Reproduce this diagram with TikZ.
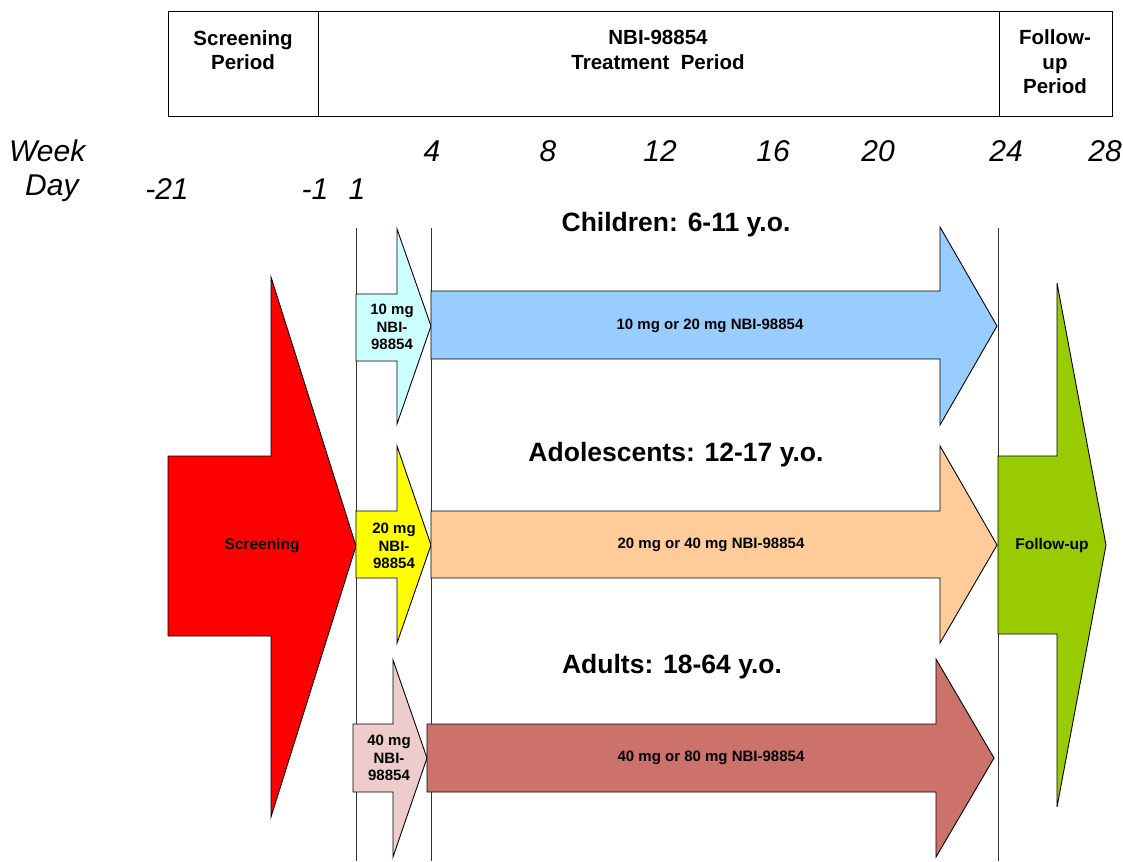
\documentclass[tikz,border=0pt]{standalone}
\usepackage{fontspec}
\setmainfont{Liberation Sans}
\usepackage{tikz}
\usetikzlibrary{positioning}

\definecolor{scrred}{HTML}{FF0000}
\definecolor{lowcyan}{HTML}{CCFFFF}
\definecolor{kidblue}{HTML}{99CCFF}
\definecolor{lowyellow}{HTML}{FFFF00}
\definecolor{teenorange}{HTML}{FFCC99}
\definecolor{lowpink}{HTML}{EDCCCB}
\definecolor{adultbrown}{HTML}{CD716B}
\definecolor{fupgreen}{HTML}{99CC00}

\begin{document}
\begin{tikzpicture}[x=1pt,y=1pt,yscale=-1,xscale=1]
  \useasboundingbox (0,0) rectangle (1123,861);
  \tikzstyle{blockarrow} = [draw=black,line width=0.9pt,line join=miter]
  \tikzstyle{period} = [font=\bfseries\fontsize{20.5}{24.5}\selectfont,align=center,inner sep=0pt]
  \tikzstyle{tick} = [font=\itshape\fontsize{30}{30}\selectfont,inner sep=0pt]
  \tikzstyle{cohort} = [font=\bfseries\fontsize{26.5}{28}\selectfont,inner sep=0pt]
  \tikzstyle{dose} = [font=\bfseries\fontsize{15}{17.5}\selectfont,align=center,inner sep=0pt]
  \tikzstyle{divider} = [line width=0.9pt,draw=black!80]
%Draw the period box on top
 \draw[line width=0.9pt] (168,11) rectangle (1112,116);
 \draw[line width=0.9pt] (318,11) -- (318,116);
 \draw[line width=0.9pt] (999,11) -- (999,116);
  \node[period] (scrhdr) at (243,50) {Screening\\Period};
  \node[period] (trthdr) at (658,50) {NBI-98854\\Treatment~~Period};
  \node[period] (fuphdr) at (1055,62) {Follow-\\up\\Period};
% Week and day scale
  \node[tick,anchor=west] (wk) at (9,151) {Week};
  \node[tick,anchor=west] (dy) at (25,188) {Day};
  \foreach \w/\x in {4/432,8/548,12/660,16/773,20/878,24/1006,28/1105}
    \node[tick] (wk\w) at (\x,151) {\w};
  \foreach \d/\n/\x in {-21/a/167,-1/b/315,1/c/357}
    \node[tick] (dy\n) at (\x,189) {\d};
%Draw vertical lines
 \draw[divider] (356,228) -- (356,861);
 \draw[divider] (431,228) -- (431,861);
 \draw[divider] (998,228) -- (998,861);
%Draw screening arrow
 \filldraw[blockarrow,fill=scrred] (168,456) -- (271,456) -- (271,277) -- (356,546)
   -- (271,817) -- (271,636) -- (168,636) -- cycle;
  \node[dose,font=\bfseries\fontsize{15.5}{17}\selectfont] (scr) at (262,546) {Screening};
%Children
  \node[cohort] (kids) at (676,225) {Children: 6-11 y.o.};
 \filldraw[blockarrow,fill=lowcyan] (356,294) -- (397,294) -- (397,229) -- (431,326)
   -- (397,424) -- (397,361) -- (356,361) -- cycle;
 \filldraw[blockarrow,fill=kidblue] (431,291) -- (940,291) -- (940,227) -- (997,326)
   -- (940,425) -- (940,359) -- (431,359) -- cycle;
  \node[dose] (kidlow) at (392,327) {10 mg\\NBI-\\98854};
  \node[dose] (kiddose) at (710,326) {10 mg or 20 mg NBI-98854};
%Adolescents
  \node[cohort] (teens) at (676,455) {Adolescents: 12-17 y.o.};
 \filldraw[blockarrow,fill=lowyellow] (356,511) -- (397,511) -- (397,446) -- (431,545)
   -- (397,643) -- (397,578) -- (356,578) -- cycle;
 \filldraw[blockarrow,fill=teenorange] (431,511) -- (940,511) -- (940,446) -- (997,545)
   -- (940,643) -- (940,578) -- (431,578) -- cycle;
  \node[dose] (teenlow) at (394,546) {20 mg\\NBI-\\98854};
  \node[dose] (teendose) at (711,545) {20 mg or 40 mg NBI-98854};
%Adults
  \node[cohort] (adults) at (672,667) {Adults: 18-64 y.o.};
 \filldraw[blockarrow,fill=lowpink] (353,724) -- (393,724) -- (393,660) -- (427,758)
   -- (393,857) -- (393,792) -- (353,792) -- cycle;
 \filldraw[blockarrow,fill=adultbrown] (427,724) -- (936,724) -- (936,659) -- (994,758)
   -- (936,857) -- (936,792) -- (427,792) -- cycle;
  \node[dose] (adultlow) at (389,758) {40 mg\\NBI-\\98854};
  \node[dose] (adultdose) at (711,758) {40 mg or 80 mg NBI-98854};
%Draw follow-up arrow
 \filldraw[blockarrow,fill=fupgreen] (998,456) -- (1057,456) -- (1057,283) -- (1106,545)
   -- (1057,807) -- (1057,634) -- (998,634) -- cycle;
  \node[dose,font=\bfseries\fontsize{15.5}{17}\selectfont] (fup) at (1052,545) {Follow-up};
  \end{tikzpicture}
\end{document}
